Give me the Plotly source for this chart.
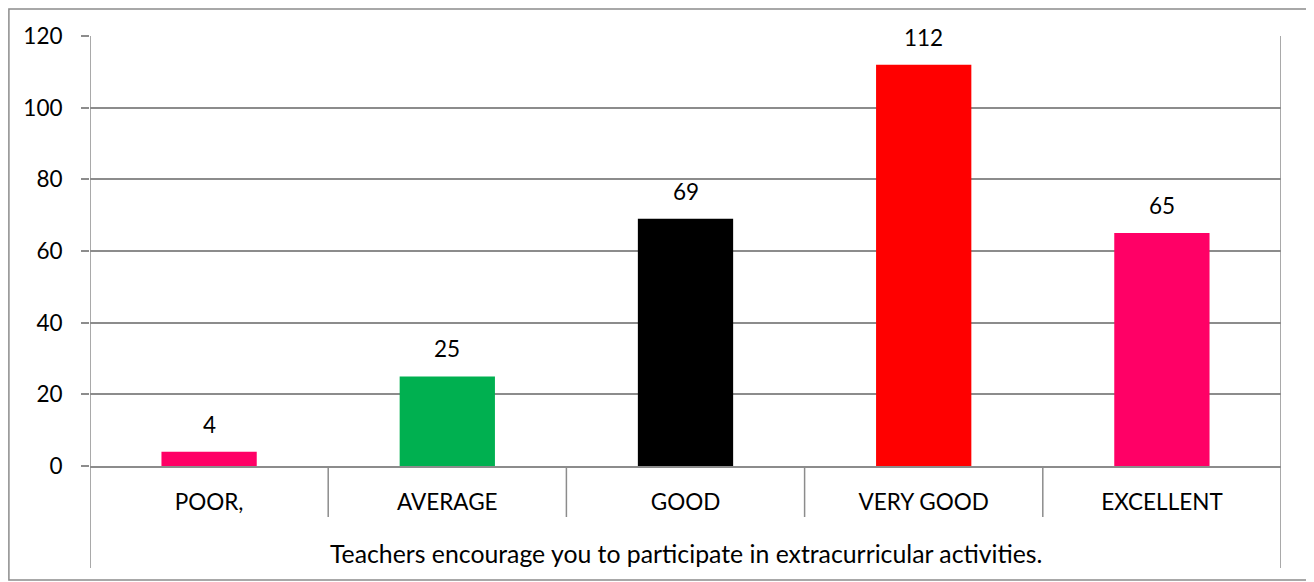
import plotly.graph_objects as go

categories = ["POOR,", "AVERAGE", "GOOD", "VERY GOOD", "EXCELLENT"]
values = [4, 25, 69, 112, 65]
colors = ["#FF0066", "#00B050", "#000000", "#FF0000", "#FF0066"]
group_label = "Teachers encourage you to participate in extracurricular activities."
y_ticks = [0, 20, 40, 60, 80, 100, 120]

OFF = 8  # page body margin
W, H = 1314 - OFF, 582 - OFF
L, R, T, B = 90 - OFF, 1281 - OFF, 36 - OFF, 466 - OFF
pw, ph = R - L, B - T

def px(x):
    return (x - OFF - L) / pw

def py(y):
    return (B - (y - OFF)) / ph

FONT = "Lato"
FS = 22.5
LINE = "#8C8C8C"

fig = go.Figure()
fig.add_trace(go.Bar(
    x=categories, y=values, marker=dict(color=colors, line=dict(width=0)),
    width=0.4, hoverinfo="x+y",
))

for c, v in zip(categories, values):
    fig.add_annotation(x=c, y=v, text=str(v), showarrow=False, yanchor="bottom",
                       yshift=12, font=dict(family=FONT, size=FS, color="black"))

shapes = []
n = len(categories)
for i in range(1, n):
    shapes.append(dict(type="line", xref="x", yref="paper", x0=i - 0.5, x1=i - 0.5,
                       y0=0, y1=py(517), line=dict(color=LINE, width=1.5)))
for xv in (-0.5, n - 0.5):
    shapes.append(dict(type="line", xref="x", yref="paper", x0=xv, x1=xv,
                       y0=1, y1=py(568), line=dict(color=LINE, width=1.5)))
shapes.append(dict(type="rect", xref="paper", yref="paper", x0=px(8.9), x1=px(1309),
                   y0=py(8.9), y1=py(580), line=dict(color="#8C8C8C", width=1.5),
                   fillcolor="rgba(0,0,0,0)", layer="below"))

fig.add_annotation(xref="paper", yref="paper", x=0.5, y=py(553), text=group_label,
                   showarrow=False, xanchor="center", yanchor="middle",
                   font=dict(family=FONT, size=24.8, color="black"))

fig.update_layout(
    width=W, height=H, margin=dict(l=L, r=W - R, t=T, b=H - B),
    paper_bgcolor="white", plot_bgcolor="white", showlegend=False,
    shapes=shapes, bargap=0.6,
    font=dict(family=FONT, size=FS, color="black"),
    xaxis=dict(type="category", range=[-0.5, n - 0.5], showgrid=False, ticks="",
               showline=True, linecolor=LINE, linewidth=1.5, ticklabelstandoff=15,
               tickfont=dict(family=FONT, size=FS, color="black"), fixedrange=True),
    yaxis=dict(range=[0, 120], tickvals=y_ticks, showgrid=True, gridcolor=LINE,
               gridwidth=1.5, ticks="outside", ticklen=8, tickcolor=LINE, tickwidth=1.5,
               showline=False, zeroline=False, ticklabelstandoff=14,
               tickfont=dict(family=FONT, size=FS, color="black"), fixedrange=True),
)

fig.write_html("out.html")
